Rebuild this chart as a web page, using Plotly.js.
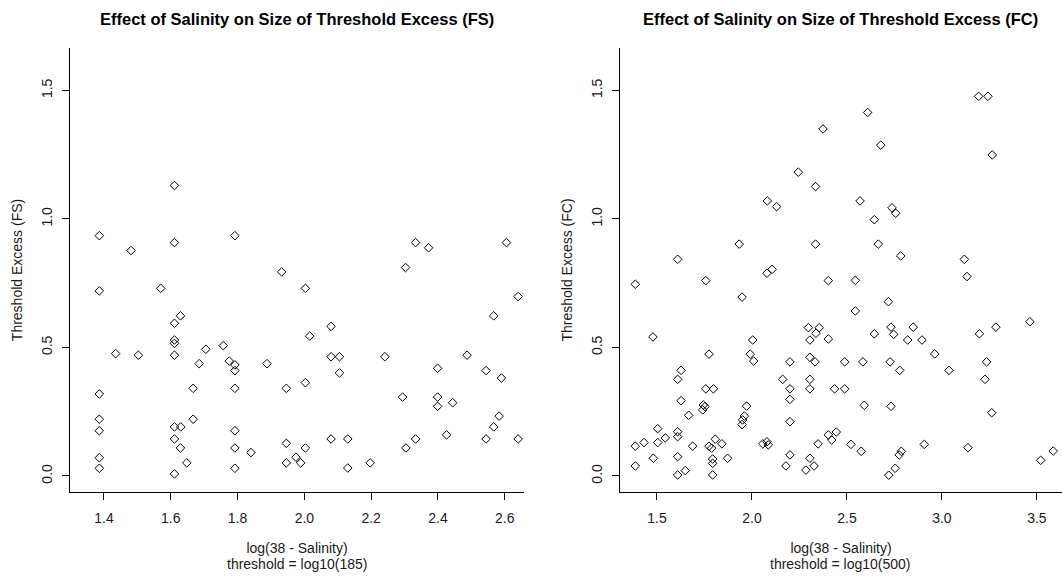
<!DOCTYPE html>
<html>
<head>
<meta charset="utf-8">
<script src="https://cdn.plot.ly/plotly-3.0.1.min.js"></script>
<style>
html,body{margin:0;padding:0;background:#fff;overflow:hidden;}
#chart{width:1062px;height:577px;}
</style>
</head>
<body>
<div id="chart"></div>
<script>
// FS panel: log(38 - Salinity) vs threshold excess
const fsX = [1.611,1.386,1.481,1.611,1.792,1.932,1.386,1.570,1.629,1.611,
  2.333,2.372,2.605,2.303,2.003,2.640,2.567,2.080,1.611,1.611,
  1.435,1.503,1.611,1.705,1.757,1.685,1.775,1.792,1.792,1.888,
  1.386,1.667,1.792,1.946,1.386,1.386,1.611,1.630,1.667,1.792,
  1.611,1.629,1.792,1.840,1.946,1.386,1.386,1.648,1.792,1.611,
  1.946,1.975,1.989,2.016,2.080,2.105,2.241,2.105,2.003,2.487,
  2.399,2.544,2.590,2.294,2.399,2.399,2.444,2.583,2.567,2.080,
  2.130,2.003,2.130,2.197,2.304,2.333,2.426,2.544,2.640];
const fsY = [1.130,0.935,0.877,0.908,0.935,0.794,0.720,0.730,0.623,0.594,
  0.908,0.888,0.908,0.811,0.730,0.698,0.623,0.582,0.529,0.516,
  0.476,0.470,0.470,0.493,0.507,0.437,0.447,0.432,0.410,0.437,
  0.319,0.341,0.341,0.341,0.221,0.176,0.191,0.191,0.221,0.176,
  0.144,0.109,0.109,0.091,0.127,0.071,0.030,0.051,0.030,0.008,
  0.051,0.073,0.051,0.544,0.464,0.464,0.464,0.401,0.363,0.470,
  0.419,0.410,0.381,0.307,0.307,0.271,0.285,0.233,0.191,0.144,
  0.144,0.109,0.031,0.051,0.109,0.144,0.160,0.144,0.144];

// FC panel
const fcX = [2.374,2.244,2.335,2.081,2.130,3.193,3.242,2.609,2.678,3.265,
  2.569,2.644,2.737,2.757,1.933,2.335,1.609,2.079,2.106,1.386,
  1.757,2.402,1.948,1.479,2.004,2.297,2.354,2.337,2.305,2.402,
  1.774,1.991,2.009,2.200,2.305,2.332,2.665,2.783,3.118,3.132,
  2.544,2.718,2.544,2.732,2.746,2.849,2.644,2.820,2.895,2.962,
  3.197,3.284,3.463,2.488,2.584,2.727,3.235,2.778,3.037,3.227,
  2.435,2.488,2.591,2.732,3.262,2.444,2.420,2.521,2.575,2.786,
  2.775,2.907,3.137,3.586,3.520,2.754,2.720,1.627,1.609,1.757,
  1.797,2.162,2.200,2.305,2.305,1.627,1.744,1.753,1.741,1.667,
  1.972,1.960,1.951,1.948,2.200,2.200,1.504,1.609,1.609,1.544,
  1.504,1.432,1.386,1.688,1.807,1.842,1.774,1.788,2.057,2.079,
  2.086,2.348,2.402,1.481,1.609,1.793,1.793,1.872,2.200,2.305,
  1.386,1.649,1.609,1.793,2.179,2.284,2.327];
const fcY = [1.350,1.182,1.126,1.070,1.048,1.477,1.477,1.414,1.287,1.249,
  1.070,0.997,1.043,1.022,0.902,0.902,0.843,0.789,0.804,0.746,
  0.760,0.760,0.696,0.541,0.529,0.577,0.577,0.555,0.529,0.533,
  0.474,0.474,0.447,0.444,0.462,0.444,0.902,0.856,0.843,0.776,
  0.761,0.678,0.642,0.579,0.551,0.579,0.553,0.529,0.529,0.475,
  0.553,0.579,0.600,0.444,0.444,0.444,0.444,0.411,0.411,0.376,
  0.339,0.339,0.275,0.271,0.246,0.171,0.140,0.123,0.096,0.096,
  0.082,0.123,0.110,0.097,0.061,0.030,0.003,0.411,0.376,0.339,
  0.339,0.376,0.339,0.376,0.339,0.293,0.276,0.270,0.257,0.236,
  0.272,0.233,0.218,0.200,0.298,0.211,0.184,0.172,0.153,0.148,
  0.130,0.130,0.116,0.116,0.143,0.125,0.116,0.108,0.125,0.133,
  0.121,0.125,0.160,0.069,0.075,0.066,0.049,0.069,0.082,0.069,
  0.039,0.021,0.004,0.004,0.039,0.023,0.039];

const titles = ['Effect of Salinity on Size of Threshold Excess (FS)',
                'Effect of Salinity on Size of Threshold Excess (FC)'];
const xTitles = ['log(38 - Salinity)', 'log(38 - Salinity)'];
const xSubTitles = ['threshold = log10(185)', 'threshold = log10(500)'];
const yTitles = ['Threshold Excess (FS)', 'Threshold Excess (FC)'];

const W = 1062, H = 577;
const FAM = 'Liberation Sans, Arial, sans-serif';
const TXT = '#1a1a1a';
const marker = {symbol: 'diamond-open', size: 6.6, color: '#000', line: {width: 1, color: '#000'}};

const traces = [
  {x: fsX, y: fsY, xaxis: 'x', yaxis: 'y', type: 'scatter', mode: 'markers', marker: marker, hoverinfo: 'x+y'},
  {x: fcX, y: fcY, xaxis: 'x2', yaxis: 'y2', type: 'scatter', mode: 'markers', marker: marker, hoverinfo: 'x+y'}
];

const yDom = [85 / H, 529 / H];
const commonAxis = {
  showline: true, linecolor: '#000', linewidth: 1, mirror: false,
  ticks: 'outside', ticklen: 7, tickwidth: 1, tickcolor: '#000',
  showgrid: false, zeroline: false, tickformat: '.1f',
  tickfont: {family: FAM, size: 14, color: TXT}
};
function xa(domain, range, dtick, anchor, title) {
  return Object.assign({}, commonAxis, {
    domain: domain, range: range, dtick: dtick, tick0: 0, anchor: anchor,
    ticklabelstandoff: 6,
    title: {text: title, font: {family: FAM, size: 14, color: TXT}, standoff: 18}
  });
}
function ya(range, anchor, title) {
  return Object.assign({}, commonAxis, {
    domain: yDom, range: range, dtick: 0.5, tick0: 0, anchor: anchor, tickangle: -90,
    ticklabelstandoff: 4,
    title: {text: title, font: {family: FAM, size: 14, color: TXT}, standoff: 13}
  });
}

const yRange = [-0.0623, 1.665];
const centers = [297, 840];
const ann = [];
for (let i = 0; i < 2; i++) {
  ann.push({text: '<b>' + titles[i] + '</b>', xref: 'paper', yref: 'paper', x: centers[i] / W, y: 1 - 19 / H,
    xanchor: 'center', yanchor: 'middle', showarrow: false, font: {family: FAM, size: 16.5, color: '#000'}});
  ann.push({text: xSubTitles[i], xref: 'paper', yref: 'paper', x: centers[i] / W, y: 1 - 564 / H,
    xanchor: 'center', yanchor: 'middle', showarrow: false, font: {family: FAM, size: 14, color: TXT}});
}

const layout = {
  width: W, height: H,
  margin: {l: 0, r: 0, t: 0, b: 0},
  paper_bgcolor: '#fff', plot_bgcolor: '#fff',
  showlegend: false,
  font: {family: FAM, color: TXT},
  xaxis: xa([70 / W, 524 / W], [1.2983, 2.6576], 0.2, 'y', xTitles[0]),
  yaxis: ya(yRange, 'x', yTitles[0]),
  xaxis2: xa([620 / W, 1], [1.3055, 3.632], 0.5, 'y2', xTitles[1]),
  yaxis2: ya(yRange, 'x2', yTitles[1]),
  annotations: ann
};

Plotly.newPlot('chart', traces, layout, {staticPlot: true, displayModeBar: false});
</script>
</body>
</html>
